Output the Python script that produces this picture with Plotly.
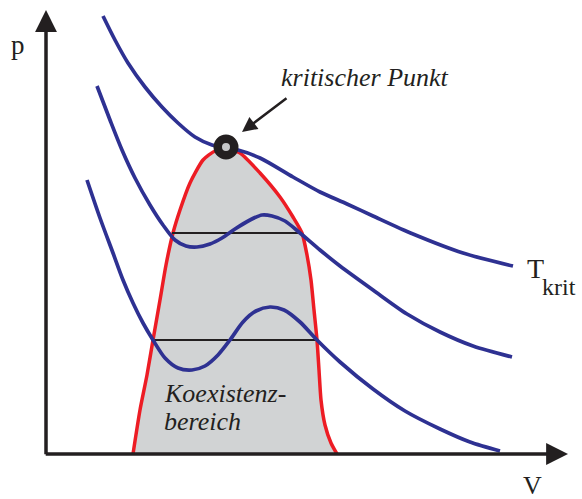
import plotly.graph_objects as go

# ---- data (V, p in arbitrary units, origin at axes crossing) ----
iso_krit_V = [57, 69, 82, 99, 116, 132, 149, 166, 180, 192, 214, 247, 274, 301, 327, 367, 417, 467]
iso_krit_p = [438, 414, 391, 367, 347, 331, 317, 309, 306, 304, 296, 277, 262, 250, 238, 220, 201, 188]

iso_mid_V = [51, 64, 76, 89, 104, 117, 129, 140, 151, 164, 176, 189, 204, 216, 226, 239, 254, 274, 294, 327, 361, 394, 427, 466]
iso_mid_p = [368, 334, 304, 276, 249, 229, 214, 208, 207, 210, 216, 225, 234, 239, 238, 233, 221, 204, 188, 164, 140, 122, 108, 97]

iso_low_V = [41, 54, 67, 77, 87, 97, 107, 119, 132, 146, 159, 172, 184, 197, 210, 224, 238, 254, 271, 294, 327, 359, 394, 424, 454]
iso_low_p = [274, 236, 201, 174, 151, 131, 114, 96, 86, 84, 88, 99, 114, 132, 143, 147, 144, 132, 114, 92, 65, 43, 25, 12, 3]

dome_V = [87, 94, 101, 107, 114, 120, 127, 134, 144, 157, 169, 180, 194, 214, 234, 247, 256, 261, 265, 268, 271, 273, 275, 279, 285, 291]
dome_p = [0, 44, 79, 114, 154, 189, 221, 244, 271, 294, 303, 305, 301, 281, 257, 237, 221, 199, 174, 144, 114, 84, 54, 29, 11, 0]

tie1_V = [126, 254]
tie1_p = [221, 221]
tie2_V = [107, 271]
tie2_p = [114, 114]

crit_V = [180]
crit_p = [307]

BLUE = "#2e3192"
RED = "#ed1c24"
GRAY = "#d1d3d4"
INK = "#231f20"
SERIF = "Liberation Serif"

fig = go.Figure()

# coexistence region
fig.add_trace(go.Scatter(x=dome_V, y=dome_p, mode="lines", fill="toself",
                         fillcolor=GRAY, line=dict(color=RED, width=3.5, shape="spline", smoothing=0.6),
                         hoverinfo="skip", showlegend=False))
# tie lines
for tv, tp in ((tie1_V, tie1_p), (tie2_V, tie2_p)):
    fig.add_trace(go.Scatter(x=tv, y=tp, mode="lines", line=dict(color=INK, width=2),
                             hoverinfo="skip", showlegend=False))
# isotherms
for iv, ip in ((iso_krit_V, iso_krit_p), (iso_mid_V, iso_mid_p), (iso_low_V, iso_low_p)):
    fig.add_trace(go.Scatter(x=iv, y=ip, mode="lines",
                             line=dict(color=BLUE, width=3.7, shape="spline", smoothing=0.8),
                             hoverinfo="skip", showlegend=False))
# critical point
fig.add_trace(go.Scatter(x=crit_V, y=crit_p, mode="markers",
                         marker=dict(size=16.5, color="#c7c8ca", line=dict(color=INK, width=8.5)),
                         hoverinfo="skip", showlegend=False))

ital = dict(family=SERIF, size=26, color=INK, style="italic")
annotations = [
    # axes with arrows
    dict(x=522, y=0, ax=-1.8, ay=0, xref="x", yref="y", axref="x", ayref="y",
         showarrow=True, arrowhead=2, arrowsize=1.25, arrowwidth=3.5, arrowcolor=INK, text=""),
    dict(x=0, y=444, ax=0, ay=-1.8, xref="x", yref="y", axref="x", ayref="y",
         showarrow=True, arrowhead=2, arrowsize=1.25, arrowwidth=3.5, arrowcolor=INK, text=""),
    # pointer to critical point
    dict(x=196, y=322, ax=242, ay=357, xref="x", yref="y", axref="x", ayref="y",
         showarrow=True, arrowhead=2, arrowsize=1.2, arrowwidth=2.5, arrowcolor=INK, text=""),
    # labels
    dict(x=-28, y=409, text="p", showarrow=False, font=dict(family=SERIF, size=27, color=INK)),
    dict(x=486, y=-31, text="V", showarrow=False, font=dict(family=SERIF, size=26, color=INK)),
    dict(x=479, y=186, text="T", showarrow=False, xanchor="left", font=dict(family=SERIF, size=28, color=INK)),
    dict(x=494, y=167, text="krit", showarrow=False, xanchor="left", font=dict(family=SERIF, size=24, color=INK)),
    dict(x=319, y=377, text="kritischer Punkt", showarrow=False, font=ital),
    dict(x=116, y=61, text="Koexistenz-", showarrow=False, xanchor="left", font=ital),
    dict(x=116, y=33, text="bereich", showarrow=False, xanchor="left", font=ital),
]

fig.update_layout(
    width=582, height=499,
    margin=dict(l=0, r=0, t=0, b=0),
    paper_bgcolor="white", plot_bgcolor="white",
    xaxis=dict(range=[-46, 536], visible=False, fixedrange=True),
    yaxis=dict(range=[-45, 454], visible=False, fixedrange=True),
    annotations=annotations,
    showlegend=False,
)

fig.write_html("out.html", config={"displayModeBar": False},
               post_script="document.body.style.margin='0';document.body.style.overflow='hidden';")
